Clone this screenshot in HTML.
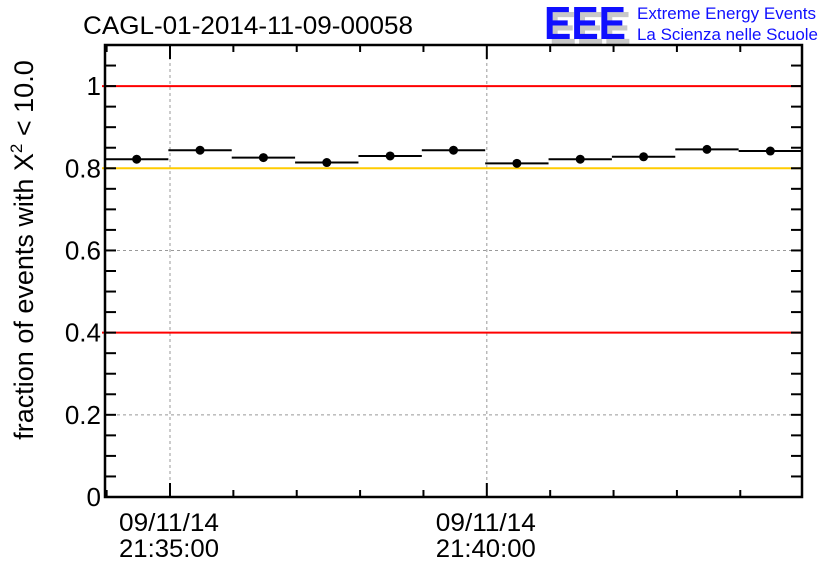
<!DOCTYPE html>
<html><head><meta charset="utf-8"><style>
html,body{margin:0;padding:0;background:#fff;}
svg{display:block;font-family:"Liberation Sans",sans-serif;}
</style></head><body>
<svg id="chart" width="836" height="572" viewBox="0 0 836 572">
  <text x="83" y="34" font-size="25" fill="#000" textLength="330" lengthAdjust="spacingAndGlyphs">CAGL-01-2014-11-09-00058</text>
  <g>
    <text x="549" y="44" font-size="46" font-weight="bold" fill="#c8c8c8" textLength="82" lengthAdjust="spacingAndGlyphs">EEE</text>
    <text x="544" y="39" font-size="46" font-weight="bold" fill="#1010ff" textLength="82" lengthAdjust="spacingAndGlyphs">EEE</text>
    <text x="637" y="19" font-size="17" fill="#1010ff" textLength="179" lengthAdjust="spacingAndGlyphs">Extreme Energy Events</text>
    <text x="637" y="40" font-size="17" fill="#1010ff" textLength="181" lengthAdjust="spacingAndGlyphs">La Scienza nelle Scuole</text>
  </g>
  <text transform="translate(33,250) rotate(-90)" text-anchor="middle" font-size="27" fill="#000">fraction of events with X<tspan dy="-11" font-size="17">2</tspan><tspan dy="11"> &lt; 10.0</tspan></text>
  <g id="grid"></g>
  <g id="lines"></g>
  <g id="marks"></g>
  <g id="axes"></g>
</svg>
<script>
const binValues = [0.822, 0.844, 0.826, 0.814, 0.830, 0.844, 0.812, 0.822, 0.828, 0.846, 0.842];
const yTickLabels = ["0", "0.2", "0.4", "0.6", "0.8", "1"];
const yTickValues = [0, 0.2, 0.4, 0.6, 0.8, 1];
const xTickMinutes = [5, 10];
const xTickLabels = [["09/11/14", "21:35:00"], ["09/11/14", "21:40:00"]];
const refLines = [1.0, 0.4];
const warnLines = [0.8];

const L = 105, R = 802, T = 45, B = 497;
const yMax = 1.1;
const nBins = binValues.length;
const xStartMin = 5 - (170 - L) / ((R - L) / nBins);
const X = m => L + (m - xStartMin) * (R - L) / nBins;
const Y = v => B - v / yMax * (B - T);
const NS = "http://www.w3.org/2000/svg";
function mk(tag, attrs, parent) {
  const e = document.createElementNS(NS, tag);
  for (const k in attrs) e.setAttribute(k, attrs[k]);
  parent.appendChild(e);
  return e;
}
const grid = document.getElementById('grid'), lines = document.getElementById('lines'),
      marks = document.getElementById('marks'), axes = document.getElementById('axes');

yTickValues.forEach(v => {
  if (v > 0 && v < 1) {
    const g = mk('line', {x1: L, x2: R, y1: Y(v), y2: Y(v), stroke: '#999', 'stroke-dasharray': '3,3', 'stroke-width': 1}, grid);
    
    
  }
});
xTickMinutes.forEach(m => {
  const g = mk('line', {x1: X(m), x2: X(m), y1: T, y2: B, stroke: '#999', 'stroke-dasharray': '3,3', 'stroke-width': 1}, grid);
  
  
});
refLines.forEach(v => {
  const l = mk('line', {x1: L - 3, x2: R, y1: Y(v), y2: Y(v), stroke: '#ff0000', 'stroke-width': 2}, lines);
  
  
});
warnLines.forEach(v => {
  const l = mk('line', {x1: L - 3, x2: R, y1: Y(v), y2: Y(v), stroke: '#ffcc00', 'stroke-width': 2}, lines);
  
  
});
binValues.forEach((v, i) => {
  const m0 = xStartMin + i, m1 = m0 + 1;
  const h = mk('line', {x1: X(m0), x2: X(m1), y1: Y(v), y2: Y(v), stroke: '#000', 'stroke-width': 2}, marks);
  
  
  const c = mk('circle', {cx: (X(m0) + X(m1)) / 2, cy: Y(v), r: 4.5, fill: '#000'}, marks);
  
  
});
const f = mk('rect', {x: L, y: T, width: R - L, height: B - T, fill: 'none', stroke: '#000', 'stroke-width': 2.5}, axes);


for (let k = 1; k < 22; k++) {
  const v = k * 0.05, y = Y(v);
  mk('line', {x1: L, x2: L + 11, y1: y, y2: y, stroke: '#000', 'stroke-width': 2}, axes);
  mk('line', {x1: R - 11, x2: R, y1: y, y2: y, stroke: '#000', 'stroke-width': 2}, axes);
}
yTickValues.forEach((v, i) => {
  const t = mk('text', {x: L - 4, y: Y(v) + 9, 'text-anchor': 'end', 'font-size': 26, fill: '#000'}, axes);
  t.textContent = yTickLabels[i];
  
  
});
for (let m = Math.ceil(xStartMin); X(m) < R; m++) {
  const major = xTickMinutes.includes(m);
  const len = major ? 14 : 7;
  mk('line', {x1: X(m), x2: X(m), y1: B, y2: B - len, stroke: '#000', 'stroke-width': 2}, axes);
  mk('line', {x1: X(m), x2: X(m), y1: T, y2: T + len, stroke: '#000', 'stroke-width': 2}, axes);
}
xTickMinutes.forEach((m, i) => {
  xTickLabels[i].forEach((s, j) => {
    const t = mk('text', {x: X(m) - 51, y: 531 + j * 26, 'font-size': 25, fill: '#000', textLength: 100, lengthAdjust: 'spacingAndGlyphs'}, axes);
    t.textContent = s;
    
    
  });
});
</script>
</body></html>
